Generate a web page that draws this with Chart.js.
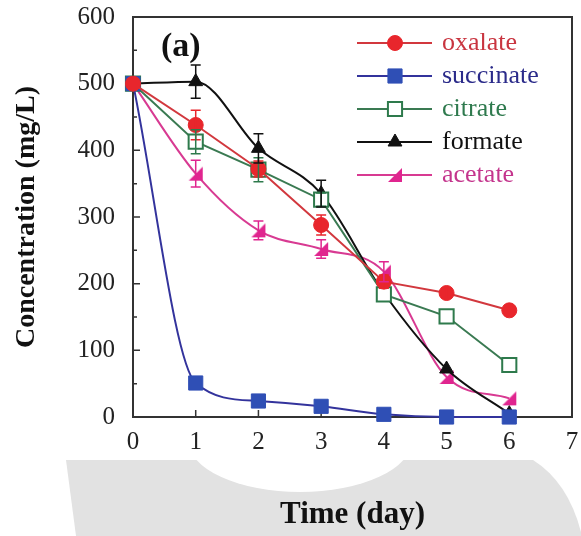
<!DOCTYPE html>
<html>
<head>
<meta charset="utf-8">
<script src="https://cdn.jsdelivr.net/npm/chart.js@4/dist/chart.umd.min.js"></script>
<style>
  body { margin: 0; background: #fff; }
  #wrap { width: 581px; height: 536px; }
</style>
</head>
<body>
<div id="wrap"><canvas id="grafico"></canvas></div>
<script>
// Datos (concentración en mg/L por día)
const dias = [0, 1, 2, 3, 4, 5, 6];
const xTicks = [0, 1, 2, 3, 4, 5, 6, 7];
const yTicks = [0, 100, 200, 300, 400, 500, 600];

const oxalate = [500, 438, 372, 288, 203, 186, 160];
const oxalateErr = [0, 22, 12, 15, 10, 8, 0];
const succinate = [500, 51, 24, 16, 4, 0, 0];
const succinateErr = [0, 0, 0, 0, 0, 0, 0];
const citrate = [500, 413, 371, 326, 184, 151, 78];
const citrateErr = [0, 18, 18, 10, 0, 0, 0];
const formate = [500, 503, 403, 335, 186, 72, 5];
const formateErr = [0, 25, 22, 20, 0, 0, 0];
const acetate = [500, 365, 280, 252, 218, 60, 28];
const acetateErr = [0, 20, 14, 14, 15, 0, 0];

const serif = "'Liberation Serif', 'Times New Roman', serif";

// marcador de acetato: medio triángulo
const medioTriangulo = document.createElement('canvas');
medioTriangulo.width = 16;
medioTriangulo.height = 16;
(function () {
    const c = medioTriangulo.getContext('2d');
    c.fillStyle = '#e0258f';
    c.beginPath();
    c.moveTo(1, 15);
    c.lineTo(15, 15);
    c.lineTo(15, 1);
    c.closePath();
    c.fill();
})();

function puntos(valores) {
    return dias.map((d, i) => ({ x: d, y: valores[i] }));
}

function serie(label, valores, errores, color, lineColor, textColor, estilo) {
    return {
        label: label,
        data: puntos(valores),
        errores: errores,
        textColor: textColor,
        borderColor: lineColor,
        borderWidth: 2,
        backgroundColor: estilo.fill,
        pointBorderColor: color,
        pointBackgroundColor: estilo.fill,
        pointBorderWidth: estilo.bw,
        pointStyle: estilo.style,
        pointRadius: estilo.r,
        cubicInterpolationMode: estilo.curva ? 'monotone' : 'default',
        tension: 0,
        clip: false
    };
}

const datasets = [
    serie('oxalate', oxalate, oxalateErr, '#e8262c', '#d2383e', '#c93540', { style: 'circle', r: 7.5, fill: '#e8262c', bw: 1, curva: false }),
    serie('succinate', succinate, succinateErr, '#2f4fb5', '#33339c', '#2b2b8a', { style: 'rect', r: 10, fill: '#2f4fb5', bw: 1, curva: true }),
    serie('citrate', citrate, citrateErr, '#2e7a4c', '#3a7a52', '#2f7a4e', { style: 'rect', r: 10, fill: '#ffffff', bw: 2, curva: false }),
    serie('formate', formate, formateErr, '#111111', '#111111', '#111111', { style: 'triangle', r: 8, fill: '#111111', bw: 1, curva: true }),
    serie('acetate', acetate, acetateErr, '#e0258f', '#d83a92', '#c4358d', { style: medioTriangulo, r: 8, fill: '#e0258f', bw: 1, curva: true })
];

// Fondo: mancha gris de la imagen original
const fondo = {
    id: 'fondo',
    beforeDraw(chart) {
        const ctx = chart.ctx;
        const w = chart.width, h = chart.height;
        ctx.save();
        ctx.fillStyle = '#ffffff';
        ctx.fillRect(0, 0, w, h);
        ctx.fillStyle = '#e2e2e2';
        ctx.beginPath();
        ctx.moveTo(66, 460);
        ctx.lineTo(533, 460);
        ctx.quadraticCurveTo(568, 482, w, 532);
        ctx.lineTo(w, h);
        ctx.lineTo(76, h);
        ctx.closePath();
        ctx.fill();
        ctx.fillStyle = '#ffffff';
        ctx.beginPath();
        ctx.ellipse(300, 440, 112, 52, 0, 0, Math.PI * 2);
        ctx.fill();
        ctx.restore();
    }
};

// Marco, marcas hacia adentro, barras de error, leyenda y etiqueta (a)
const decorado = {
    id: 'decorado',
    beforeDatasetsDraw(chart) {
        const { ctx, chartArea: a, scales } = chart;
        ctx.save();
        ctx.strokeStyle = '#333333';
        ctx.lineWidth = 2;
        ctx.strokeRect(a.left, a.top, a.right - a.left, a.bottom - a.top);
        ctx.lineWidth = 1.5;
        ctx.beginPath();
        for (let v = 0; v <= 600; v += 50) {
            const y = scales.y.getPixelForValue(v);
            ctx.moveTo(a.left, y);
            ctx.lineTo(a.left + (v % 100 === 0 ? 7 : 4), y);
        }
        xTicks.forEach(v => {
            const x = scales.x.getPixelForValue(v);
            ctx.moveTo(x, a.bottom);
            ctx.lineTo(x, a.bottom - 7);
        });
        ctx.stroke();
        ctx.restore();
    },
    afterDatasetsDraw(chart) {
        const { ctx, chartArea: a, scales } = chart;
        ctx.save();
        chart.data.datasets.forEach(ds => {
            ctx.strokeStyle = ds.pointBorderColor;
            ctx.lineWidth = 1.5;
            ds.data.forEach((p, i) => {
                const e = ds.errores[i];
                if (!e) return;
                const x = scales.x.getPixelForValue(p.x);
                const y1 = scales.y.getPixelForValue(p.y - e);
                const y2 = scales.y.getPixelForValue(p.y + e);
                ctx.beginPath();
                ctx.moveTo(x, y1); ctx.lineTo(x, y2);
                ctx.moveTo(x - 5, y1); ctx.lineTo(x + 5, y1);
                ctx.moveTo(x - 5, y2); ctx.lineTo(x + 5, y2);
                ctx.stroke();
            });
        });

        // leyenda
        const x0 = a.right - 215, x1 = a.right - 140, xm = a.right - 177, xt = a.right - 130;
        chart.data.datasets.forEach((ds, i) => {
            const y = a.top + 26 + i * 33;
            ctx.strokeStyle = ds.borderColor;
            ctx.lineWidth = 2;
            ctx.beginPath();
            ctx.moveTo(x0, y); ctx.lineTo(x1, y);
            ctx.stroke();
            ctx.fillStyle = ds.pointBackgroundColor;
            ctx.strokeStyle = ds.pointBorderColor;
            ctx.lineWidth = ds.pointBorderWidth;
            Chart.helpers.drawPoint(ctx, {
                pointStyle: ds.pointStyle,
                radius: ds.pointRadius,
                borderWidth: ds.pointBorderWidth,
                rotation: 0
            }, xm, y);
            ctx.font = '26px ' + serif;
            ctx.fillStyle = ds.textColor;
            ctx.textBaseline = 'middle';
            ctx.textAlign = 'left';
            ctx.fillText(ds.label, xt, y);
        });

        ctx.font = 'bold 34px ' + serif;
        ctx.fillStyle = '#111111';
        ctx.textBaseline = 'middle';
        ctx.fillText('(a)', a.left + 28, a.top + 30);
        ctx.restore();
    }
};

new Chart(document.getElementById('grafico'), {
    type: 'line',
    data: { datasets: datasets },
    plugins: [fondo, decorado],
    options: {
        responsive: true,
        maintainAspectRatio: false,
        animation: false,
        layout: { autoPadding: false, padding: { top: 17, right: 9, left: 0, bottom: 0 } },
        plugins: { legend: { display: false }, tooltip: { enabled: false } },
        scales: {
            x: {
                type: 'linear',
                min: 0,
                max: 7,
                afterBuildTicks: s => { s.ticks = xTicks.map(v => ({ value: v })); },
                afterFit: s => { s.height = 119; s.paddingLeft = 0; s.paddingRight = 0; },
                border: { display: false },
                grid: { display: false },
                ticks: { padding: 2, color: '#222', font: { family: serif, size: 25 } },
                title: {
                    display: true,
                    text: 'Time (day)',
                    color: '#111',
                    padding: { top: 0, bottom: 2 },
                    font: { family: serif, size: 31, weight: 'bold' }
                }
            },
            y: {
                min: 0,
                max: 600,
                afterBuildTicks: s => { s.ticks = yTicks.map(v => ({ value: v })); },
                afterFit: s => { s.width = 133; s.paddingTop = 0; s.paddingBottom = 0; },
                border: { display: false },
                grid: { display: false },
                ticks: { padding: 10, color: '#222', font: { family: serif, size: 25 } },
                title: {
                    display: true,
                    text: 'Concentration (mg/L)',
                    color: '#111',
                    padding: { top: 10, bottom: 0 },
                    font: { family: serif, size: 28, weight: 'bold' }
                }
            }
        }
    }
});
</script>
</body>
</html>
